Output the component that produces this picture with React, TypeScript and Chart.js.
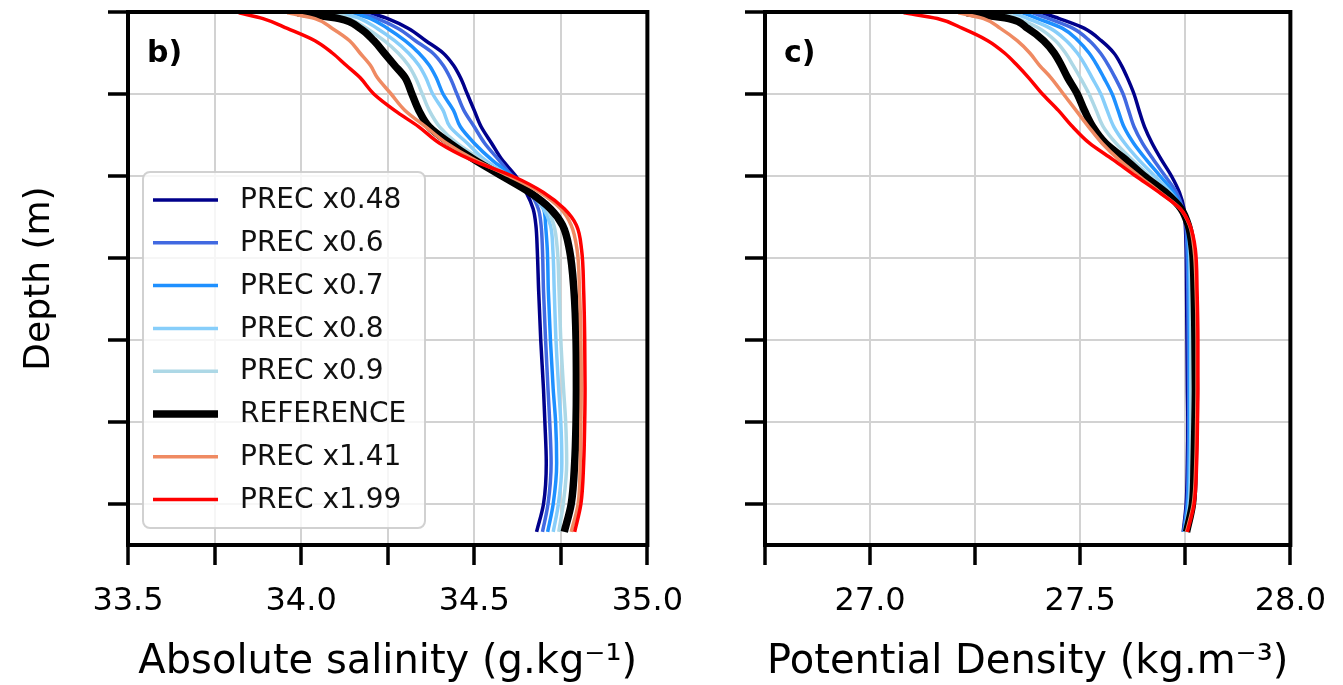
import React, { useEffect, useRef } from 'react';
import { Chart, registerables } from 'chart.js';

Chart.register(...registerables);

// ---------------- data ----------------
const depths = [1, 8, 20, 35, 50, 65, 80, 100, 120, 140, 160, 180, 200, 220, 240, 260, 290, 340, 400, 460, 500, 550, 600, 634];

const seriesLabels = ['PREC x0.48', 'PREC x0.6', 'PREC x0.7', 'PREC x0.8', 'PREC x0.9', 'REFERENCE', 'PREC x1.41', 'PREC x1.99'];
const seriesColors = ['#00008b', '#4169e1', '#1e90ff', '#87cefa', '#add8e6', '#000000', '#ef8a62', '#ff0000'];
const seriesWidths = [3.5, 3.5, 3.5, 3.5, 3.5, 7.5, 3.5, 3.5];

// Absolute salinity (g/kg)
const salinity048 = [34.20, 34.25, 34.31, 34.36, 34.41, 34.44, 34.46, 34.48, 34.50, 34.52, 34.55, 34.58, 34.62, 34.65, 34.67, 34.678, 34.682, 34.686, 34.692, 34.70, 34.704, 34.708, 34.70, 34.68];
const salinity06 = [34.17, 34.22, 34.28, 34.33, 34.38, 34.41, 34.43, 34.45, 34.47, 34.50, 34.53, 34.57, 34.61, 34.66, 34.685, 34.693, 34.697, 34.70, 34.706, 34.713, 34.718, 34.722, 34.713, 34.697];
const salinity07 = [34.15, 34.20, 34.25, 34.30, 34.34, 34.37, 34.39, 34.41, 34.44, 34.46, 34.50, 34.55, 34.61, 34.66, 34.70, 34.706, 34.711, 34.714, 34.72, 34.728, 34.735, 34.738, 34.728, 34.712];
const salinity08 = [34.12, 34.17, 34.22, 34.27, 34.31, 34.34, 34.36, 34.38, 34.41, 34.43, 34.48, 34.53, 34.60, 34.66, 34.70, 34.72, 34.727, 34.731, 34.736, 34.744, 34.75, 34.753, 34.743, 34.728];
const salinity09 = [34.10, 34.14, 34.19, 34.24, 34.28, 34.31, 34.33, 34.35, 34.37, 34.40, 34.45, 34.52, 34.59, 34.67, 34.71, 34.73, 34.74, 34.745, 34.75, 34.758, 34.764, 34.767, 34.757, 34.744];
const salinityRef = [33.99, 34.11, 34.17, 34.21, 34.24, 34.27, 34.30, 34.32, 34.34, 34.37, 34.43, 34.50, 34.58, 34.66, 34.72, 34.755, 34.775, 34.788, 34.794, 34.795, 34.794, 34.79, 34.78, 34.76];
const salinity141 = [33.96, 34.04, 34.09, 34.14, 34.17, 34.20, 34.22, 34.26, 34.30, 34.36, 34.42, 34.50, 34.60, 34.69, 34.75, 34.78, 34.797, 34.804, 34.808, 34.809, 34.808, 34.806, 34.80, 34.78];
const salinity199 = [33.82, 33.89, 33.96, 34.04, 34.09, 34.13, 34.17, 34.21, 34.27, 34.34, 34.40, 34.49, 34.61, 34.70, 34.76, 34.795, 34.81, 34.816, 34.819, 34.82, 34.819, 34.816, 34.808, 34.79];

// Potential density (kg/m3)
const density048 = [27.41, 27.45, 27.51, 27.55, 27.58, 27.598, 27.612, 27.628, 27.64, 27.653, 27.671, 27.693, 27.717, 27.736, 27.747, 27.75, 27.752, 27.753, 27.754, 27.755, 27.756, 27.755, 27.752, 27.745];
const density06 = [27.387, 27.425, 27.483, 27.522, 27.548, 27.567, 27.583, 27.602, 27.615, 27.628, 27.648, 27.674, 27.702, 27.729, 27.744, 27.751, 27.754, 27.756, 27.757, 27.758, 27.758, 27.757, 27.754, 27.746];
const density07 = [27.363, 27.399, 27.458, 27.495, 27.521, 27.54, 27.556, 27.576, 27.59, 27.604, 27.627, 27.657, 27.69, 27.722, 27.743, 27.754, 27.757, 27.759, 27.76, 27.76, 27.76, 27.759, 27.756, 27.747];
const density08 = [27.34, 27.375, 27.429, 27.467, 27.493, 27.512, 27.528, 27.549, 27.564, 27.58, 27.606, 27.639, 27.677, 27.715, 27.742, 27.756, 27.76, 27.762, 27.763, 27.763, 27.763, 27.762, 27.759, 27.748];
const density09 = [27.316, 27.351, 27.403, 27.441, 27.465, 27.483, 27.50, 27.521, 27.538, 27.555, 27.585, 27.623, 27.665, 27.708, 27.74, 27.758, 27.763, 27.765, 27.766, 27.766, 27.766, 27.765, 27.762, 27.75];
const densityRef = [27.23, 27.33, 27.375, 27.413, 27.438, 27.455, 27.47, 27.493, 27.51, 27.53, 27.56, 27.608, 27.652, 27.703, 27.74, 27.757, 27.767, 27.771, 27.773, 27.774, 27.773, 27.771, 27.767, 27.753];
const density141 = [27.21, 27.27, 27.31, 27.35, 27.38, 27.403, 27.43, 27.46, 27.49, 27.52, 27.552, 27.592, 27.64, 27.69, 27.738, 27.76, 27.771, 27.776, 27.778, 27.778, 27.777, 27.775, 27.769, 27.753];
const density199 = [27.08, 27.16, 27.22, 27.28, 27.32, 27.35, 27.377, 27.41, 27.448, 27.482, 27.522, 27.578, 27.632, 27.688, 27.738, 27.761, 27.774, 27.778, 27.78, 27.78, 27.779, 27.777, 27.771, 27.755];

const salinityLabelTicks = [33.5, 34.0, 34.5, 35.0];
const densityLabelTicks = [27.0, 27.5, 28.0];

const FONT = '"DejaVu Sans", "Liberation Sans", sans-serif';

// ---------------- helpers ----------------
function buildDatasets(values: number[][]) {
  return values.map((vals, i) => ({
    label: seriesLabels[i],
    data: depths.map((d, j) => ({ x: vals[j], y: d })),
    borderColor: seriesColors[i],
    backgroundColor: seriesColors[i],
    borderWidth: seriesWidths[i],
    pointRadius: 0,
    pointHoverRadius: 0,
    cubicInterpolationMode: 'monotone',
    fill: false,
    borderCapStyle: 'butt',
    borderJoinStyle: 'round',
    order: seriesLabels.length - i,
  }));
}

const framePlugin = {
  id: 'frame',
  afterDatasetsDraw(chart: any, _args: any, opts: any) {
    const { ctx, chartArea } = chart;
    const { left, top, right, bottom } = chartArea;
    ctx.save();
    ctx.strokeStyle = '#000';
    ctx.lineWidth = 4;
    ctx.strokeRect(left, top, right - left, bottom - top);
    ctx.fillStyle = '#000';
    ctx.font = `bold 30px ${FONT}`;
    ctx.textBaseline = 'alphabetic';
    ctx.textAlign = 'left';
    ctx.fillText(opts.panel || '', left + 19, top + 50);
    ctx.restore();
  },
};

const legendPlugin = {
  id: 'boxLegend',
  afterDraw(chart: any, _args: any, opts: any) {
    if (!opts || !opts.show) return;
    const { ctx, chartArea } = chart;
    const x0 = chartArea.left + 15;
    const y0 = 172;
    const w = 282;
    const h = 356;
    const r = 7;
    ctx.save();
    ctx.beginPath();
    ctx.moveTo(x0 + r, y0);
    ctx.arcTo(x0 + w, y0, x0 + w, y0 + h, r);
    ctx.arcTo(x0 + w, y0 + h, x0, y0 + h, r);
    ctx.arcTo(x0, y0 + h, x0, y0, r);
    ctx.arcTo(x0, y0, x0 + w, y0, r);
    ctx.closePath();
    ctx.fillStyle = 'rgba(255,255,255,0.8)';
    ctx.fill();
    ctx.strokeStyle = 'rgba(204,204,204,0.9)';
    ctx.lineWidth = 2;
    ctx.stroke();
    ctx.font = `28px ${FONT}`;
    ctx.textBaseline = 'middle';
    ctx.textAlign = 'left';
    seriesLabels.forEach((lab, i) => {
      const y = 200 + i * 42.8;
      ctx.beginPath();
      ctx.strokeStyle = seriesColors[i];
      ctx.lineWidth = seriesWidths[i];
      ctx.lineCap = 'butt';
      ctx.moveTo(x0 + 10, y);
      ctx.lineTo(x0 + 75, y);
      ctx.stroke();
      ctx.fillStyle = '#111';
      ctx.fillText(lab, x0 + 97, y + 1);
    });
    ctx.restore();
  },
};

function makeConfig(p: {
  values: number[][];
  xmin: number;
  xmax: number;
  labelTicks: number[];
  xTitle: string;
  yTitle: string | null;
  yWidth: number;
  padRight: number;
  panel: string;
  legend: boolean;
}) {
  const gridBase = {
    color: '#d2d2d2',
    lineWidth: 2,
    tickColor: '#000',
    tickWidth: 3.5,
    tickLength: 20,
    drawTicks: true,
    drawOnChartArea: true,
  };
  return {
    type: 'line',
    data: { datasets: buildDatasets(p.values) },
    plugins: [framePlugin, legendPlugin],
    options: {
      indexAxis: 'y',
      responsive: false,
      animation: false,
      devicePixelRatio: 1,
      events: [],
      layout: { padding: { left: 0, top: 12, right: p.padRight, bottom: 0 } },
      plugins: {
        legend: { display: false },
        tooltip: { enabled: false },
        frame: { panel: p.panel },
        boxLegend: { show: p.legend },
      },
      scales: {
        x: {
          type: 'linear',
          position: 'bottom',
          min: p.xmin,
          max: p.xmax,
          ticks: {
            stepSize: 0.25,
            autoSkip: false,
            maxRotation: 0,
            color: '#000',
            padding: 17,
            font: { family: FONT, size: 32 },
            callback: (v: any) => {
              const n = Number(v);
              return p.labelTicks.some((l) => Math.abs(l - n) < 1e-6) ? n.toFixed(1) : '';
            },
          },
          grid: gridBase,
          border: { display: true, color: '#000', width: 4 },
          title: {
            display: true,
            text: p.xTitle,
            color: '#000',
            font: { family: FONT, size: 40, lineHeight: 1 },
            padding: { top: 0, bottom: 2 },
          },
          afterFit: (s: any) => {
            s.height = 140;
          },
        },
        y: {
          type: 'linear',
          position: 'left',
          reverse: true,
          min: 0,
          max: 650,
          ticks: { stepSize: 100, display: false },
          afterBuildTicks: (s: any) => {
            s.ticks = s.ticks.filter((t: any) => t.value <= 600);
          },
          grid: gridBase,
          border: { display: true, color: '#000', width: 4 },
          title: {
            display: !!p.yTitle,
            text: p.yTitle || '',
            color: '#000',
            font: { family: FONT, size: 36, lineHeight: 1 },
            padding: { top: 22, bottom: 0 },
          },
          afterFit: (s: any) => {
            s.width = p.yWidth;
          },
        },
      },
    },
  };
}

function Panel(props: { config: any; left: number; width: number }) {
  const ref = useRef<HTMLCanvasElement | null>(null);
  useEffect(() => {
    if (!ref.current) return;
    const chart = new Chart(ref.current, props.config);
    return () => chart.destroy();
  }, []);
  return (
    <canvas
      ref={ref}
      width={props.width}
      height={685}
      style={{ position: 'absolute', left: props.left, top: 0, width: props.width, height: 685 }}
    />
  );
}

export default function App() {
  const leftConfig = makeConfig({
    values: [salinity048, salinity06, salinity07, salinity08, salinity09, salinityRef, salinity141, salinity199],
    xmin: 33.5,
    xmax: 35.0,
    labelTicks: salinityLabelTicks,
    xTitle: 'Absolute salinity (g.kg⁻¹)',
    yTitle: 'Depth (m)',
    yWidth: 128,
    padRight: 43,
    panel: 'b)',
    legend: true,
  });
  const rightConfig = makeConfig({
    values: [density048, density06, density07, density08, density09, densityRef, density141, density199],
    xmin: 26.75,
    xmax: 28.0,
    labelTicks: densityLabelTicks,
    xTitle: 'Potential Density (kg.m⁻³)',
    yTitle: null,
    yWidth: 65,
    padRight: 47,
    panel: 'c)',
    legend: false,
  });
  return (
    <div style={{ position: 'absolute', left: 0, top: 0, width: 1343, height: 685, background: '#fff', overflow: 'hidden' }}>
      <Panel config={leftConfig} left={0} width={700} />
      <Panel config={rightConfig} left={700} width={643} />
    </div>
  );
}
